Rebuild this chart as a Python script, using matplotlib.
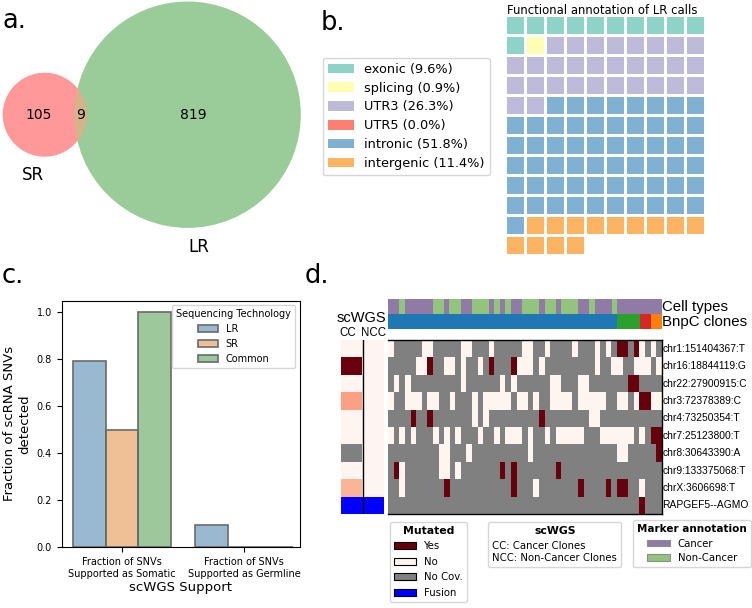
import numpy as np
import matplotlib
matplotlib.use("Agg")
import matplotlib.pyplot as plt
from matplotlib.patches import Circle, Rectangle, Patch
from matplotlib.colors import ListedColormap, to_rgba
from matplotlib import colormaps

# ---------------- data ----------------
# panel a: Venn counts
venn_set_names = ["SR", "LR"]
venn_sr_only = 105
venn_lr_only = 819
venn_shared = 9

# panel b: functional annotation (waffle)
func_categories = ["exonic", "splicing", "UTR3", "UTR5", "intronic", "intergenic"]
func_counts = [11, 1, 30, 0, 59, 13]
func_colors = ["#8dd3c7", "#ffffb3", "#bebada", "#fb8072", "#80b1d3", "#fdb462"]
waffle_ncols = 10

# panel c: scWGS support
support_groups = ["Fraction of SNVs\nSupported as Somatic",
                  "Fraction of SNVs\nSupported as Germline"]
seq_technologies = ["LR", "SR", "Common"]
lr_fraction = [0.793, 0.095]
sr_fraction = [0.50, 0.0]
common_fraction = [1.0, 0.0]
tech_colors = ["#3274a1", "#e1812c", "#3a923a"]

# panel d: mutation heatmap
snv_labels = ["chr1:151404367:T", "chr16:18844119:G", "chr22:27900915:C",
              "chr3:72378389:C", "chr4:73250354:T", "chr7:25123800:T",
              "chr8:30643390:A", "chr9:133375068:T", "chrX:3606698:T",
              "RAPGEF5--AGMO"]
# w = No, r = Yes (mutated), g = No coverage
mutation_rows = [
    "w" "ggggg" "ww" "ggggg" "ww" "ggg" "w" "ggggg" "ww" "gg" "w" "gggg" "w" "ggg" "w" "g" "w" "g" "rr" "g" "r" "w" "g" "w" "g",
    "ggggg" "ww" "r" "gg" "ww" "g" "w" "gg" "w" "g" "r" "ggg" "r" "www" "g" "w" "ggggggggg" "w" "gg" "ww" "gg" "www" "g" "w",
    "gwgw" "ggggggggg" "w" "gggggg" "w" "g" "w" "gggggg" "ww" "ggg" "ww" "ggggggg" "rr" "gggg",
    "w" "gg" "www" "g" "ww" "gg" "w" "ggg" "w" "g" "wwwww" "g" "ww" "g" "w" "gg" "wwww" "g" "wwwww" "gg" "ww" "g" "w" "rr" "ww",
    "gggg" "r" "gg" "r" "ggggggg" "w" "g" "w" "ggggggggg" "r" "gggggggg" "ww" "ggggggggggg",
    "wgwgw" "ggg" "w" "g" "w" "g" "w" "ggg" "w" "gg" "w" "g" "www" "g" "w" "gg" "w" "g" "wwwww" "ggg" "wwwwww" "g" "w" "g" "rr",
    "ggggggggg" "ww" "ggg" "w" "gggggggggg" "w" "ggggggggggggggg" "ww" "ggggg" "r",
    "g" "r" "w" "gggggg" "ww" "g" "w" "ggggggg" "r" "g" "r" "ggggggg" "r" "gggggggggggggggggg",
    "gg" "w" "ggggggg" "r" "ggggggggggg" "r" "ggg" "w" "ggggggg" "r" "gggg" "r" "g" "rr" "gg" "w" "ggg",
    "ggggggggggggggggggggggggggggggggggggggggggggg" "r" "ggg",
]
# C = Cancer, N = Non-Cancer marker annotation per cell
cell_type_codes = "CC" "N" "CCCCC" "NN" "C" "NN" "CC" "NNN" "C" "N" "C" "N" "CC" "NNN" "C" "NN" "C" "NNN" "CC" "N" "CCC" "N" "CCCCCCCC"
# BnpC clone per cell
bnpc_clone_codes = "11111111111111111111111111111111111111111" "2222" "33" "44"
# scWGS support in cancer / non-cancer clones (fraction mutated); nan = no coverage
cc_fraction = [0.0, 1.0, 0.0, 0.33, 0.0, 0.0, np.nan, 0.0, 0.27, np.nan]
ncc_fraction = [0.0, 0.0, 0.0, 0.0, 0.0, 0.0, 0.0, 0.0, 0.0, np.nan]
row_is_fusion = [False, False, False, False, False, False, False, False, False, True]

mut_state_names = ["Yes", "No", "No Cov.", "Fusion"]
mut_state_colors = ["#67000d", "#fff5f0", "#808080", "#0000ff"]
cell_type_names = ["Cancer", "Non-Cancer"]
cell_type_colors = ["#8f7ba5", "#93c47d"]
clone_colors = {"1": "#1f77b4", "2": "#2ca02c", "3": "#d62728", "4": "#ff7f0e"}

# ---------------- figure ----------------
W, H = 752, 608
plt.rcParams["font.family"] = ["DejaVu Sans"]
fig = plt.figure(figsize=(W / 100, H / 100), dpi=100)


def px_axes(x0, y0, x1, y1):
    return fig.add_axes([x0 / W, 1 - y1 / H, (x1 - x0) / W, (y1 - y0) / H])


def fxy(x, y):
    return x / W, 1 - y / H


# panel labels
for lab, (x, y) in zip(["a.", "b.", "c.", "d."],
                       [(2, 28.5), (321, 30), (2, 283.5), (305, 283.5)]):
    fig.text(*fxy(x, y), lab, fontsize=18.5, va="baseline", ha="left")

# ---------------- panel a: Venn ----------------
ax_a = px_axes(0, 0, 312, 262)
r_sr = np.sqrt((venn_sr_only + venn_shared) / np.pi)
r_lr = np.sqrt((venn_lr_only + venn_shared) / np.pi)


def lens_area(d, r1, r2):
    a1 = np.arccos(np.clip((d * d + r1 * r1 - r2 * r2) / (2 * d * r1), -1, 1))
    a2 = np.arccos(np.clip((d * d + r2 * r2 - r1 * r1) / (2 * d * r2), -1, 1))
    tri = 0.5 * np.sqrt(max((-d + r1 + r2) * (d + r1 - r2) * (d - r1 + r2) * (d + r1 + r2), 0))
    return r1 * r1 * a1 + r2 * r2 * a2 - tri


lo, hi = abs(r_lr - r_sr) + 1e-9, r_sr + r_lr
for _ in range(200):
    mid = 0.5 * (lo + hi)
    if lens_area(mid, r_sr, r_lr) > venn_shared:
        lo = mid
    else:
        hi = mid
dist = 0.5 * (lo + hi)

scale = 42.0 / r_sr
cx, cy = 44.7, 114.7
ax_a.set_xlim(-cx / scale, (312 - cx) / scale)
ax_a.set_ylim(-(262 - cy) / scale, cy / scale)
ax_a.axis("off")
circ_lr = Circle((dist, 0), r_lr, facecolor="#99cc99", edgecolor="none")
circ_sr = Circle((0, 0), r_sr, facecolor="#ff9999", edgecolor="none")
circ_ov = Circle((0, 0), r_sr, facecolor="#d6b48a", edgecolor="none")
ax_a.add_patch(circ_lr)
ax_a.add_patch(circ_sr)
ax_a.add_patch(circ_ov)
circ_ov.set_clip_path(circ_lr)
ax_a.text((-r_sr + dist - r_lr) / 2, 0, str(venn_sr_only), ha="center", va="center", fontsize=10)
ax_a.text((dist - r_lr + r_sr) / 2, 0, str(venn_shared), ha="center", va="center", fontsize=10)
ax_a.text((r_sr + dist + r_lr) / 2, 0, str(venn_lr_only), ha="center", va="center", fontsize=10)
ax_a.text(-1.65, -r_sr - 1.4, venn_set_names[0], ha="center", va="top", fontsize=12)
ax_a.text(dist + 1.6, -r_lr - 1.4, venn_set_names[1], ha="center", va="top", fontsize=12)

# ---------------- panel b: waffle ----------------
total_calls = sum(func_counts)
n_wrows = int(np.ceil(total_calls / waffle_ncols))
ax_w = px_axes(505.7, 15.7, 505.7 + 20 * waffle_ncols, 15.7 + 20 * n_wrows)
ax_w.set_xlim(0, waffle_ncols)
ax_w.set_ylim(n_wrows, 0)
ax_w.axis("off")
k = 0
for ci, n in enumerate(func_counts):
    for _ in range(n):
        r, c = divmod(k, waffle_ncols)
        ax_w.add_patch(Rectangle((c + 0.08, r + 0.08), 0.835, 0.835,
                                 facecolor=func_colors[ci], edgecolor="none"))
        k += 1
fig.text(*fxy(507.5, 14), "Functional annotation of LR calls", fontsize=8.4,
         va="baseline", ha="left")
b_handles = [Patch(facecolor=col, edgecolor="none") for col in func_colors]
b_labels = [f"{cat} ({100 * n / total_calls:.1f}%)" for cat, n in zip(func_categories, func_counts)]
fig.legend(b_handles, b_labels, loc="upper left", bbox_to_anchor=fxy(322.7, 57.7),
           bbox_transform=fig.transFigure, borderaxespad=0, fontsize=9.3,
           labelspacing=0.45, handlelength=2.0, handleheight=0.75)

# ---------------- panel c: bar chart ----------------
ax_c = px_axes(61.7, 300.5, 300, 547.3)
bw = 0.8 / 3
xg = np.arange(len(support_groups))
for ti, (tech, vals) in enumerate(zip(seq_technologies, [lr_fraction, sr_fraction, common_fraction])):
    ax_c.bar(xg + (ti - 1) * bw, vals, width=bw, facecolor=to_rgba(tech_colors[ti], 0.5),
             edgecolor="#6a6a6a", linewidth=1.2, label=tech)
ax_c.set_xlim(-0.493, 1.458)
ax_c.set_ylim(0, 1.05)
ax_c.set_xticks(xg)
ax_c.set_xticklabels(support_groups, fontsize=7)
ax_c.set_yticks(np.arange(0, 1.01, 0.2))
ax_c.set_yticklabels([f"{v:.1f}" for v in np.arange(0, 1.01, 0.2)], fontsize=7)
ax_c.set_ylabel("Fraction of scRNA SNVs\ndetected", fontsize=9.5)
ax_c.set_xlabel("scWGS Support", fontsize=9.5, labelpad=2)
ax_c.legend(title="Sequencing Technology", fontsize=7, title_fontsize=7, loc="upper right")

# ---------------- panel d: heatmap ----------------
n_rows = len(mutation_rows)
n_cells = len(cell_type_codes)
code_map = {"w": 0, "r": 1, "g": 2}
mut = np.array([[code_map[ch] for ch in row.ljust(n_cells, "g")[:n_cells]] for row in mutation_rows])

hx0, hx1, hy0, hy1 = 388.3, 661.7, 340.0, 514.0
ax_h = px_axes(hx0, hy0, hx1, hy1)
cmap_mut = ListedColormap([mut_state_colors[1], mut_state_colors[0], mut_state_colors[2]])
ax_h.pcolormesh(np.arange(n_cells + 1), np.arange(n_rows + 1), mut, cmap=cmap_mut,
                vmin=-0.5, vmax=2.5)
ax_h.set_xlim(0, n_cells)
ax_h.set_ylim(n_rows, 0)
ax_h.set_xticks([])
ax_h.set_yticks([])
for side in ["top", "bottom", "right"]:
    ax_h.spines[side].set_linewidth(1.0)
ax_h.spines["left"].set_visible(False)
for i, lab in enumerate(snv_labels):
    ax_h.text(n_cells + 0.12, i + 0.5, lab, fontsize=7.4, family="Liberation Sans",
              va="center", ha="left", clip_on=False)

# top annotations
ax_t = px_axes(hx0, 299.0, hx1, 329.0)
ct_rgb = [to_rgba(cell_type_colors[0] if ch == "C" else cell_type_colors[1]) for ch in cell_type_codes]
cl_rgb = [to_rgba(clone_colors[ch]) for ch in bnpc_clone_codes]
ax_t.imshow(np.array([ct_rgb, cl_rgb]), aspect="auto", interpolation="nearest",
            extent=(0, n_cells, 2, 0))
ax_t.set_xlim(0, n_cells)
ax_t.set_ylim(2, 0)
ax_t.axis("off")
for i, lab in enumerate(["Cell types", "BnpC clones"]):
    ax_t.text(n_cells + 0.12, i + 0.55, lab, fontsize=10.8, family="Liberation Sans",
              va="center", ha="left", clip_on=False)

# scWGS CC / NCC columns
ax_s = px_axes(341.3, hy0, 384.3, hy1)
reds = colormaps["Reds"]
img = np.zeros((n_rows, 2, 4))
for i in range(n_rows):
    for j, vals in enumerate([cc_fraction, ncc_fraction]):
        if row_is_fusion[i]:
            img[i, j] = to_rgba(mut_state_colors[3])
        elif np.isnan(vals[i]):
            img[i, j] = to_rgba(mut_state_colors[2])
        else:
            img[i, j] = reds(vals[i])
ax_s.imshow(img, aspect="auto", interpolation="nearest", extent=(0, 2, n_rows, 0))
ax_s.set_xlim(0, 2)
ax_s.set_ylim(n_rows, 0)
ax_s.axvline(1, color="black", lw=1.0)
ax_s.axis("off")
fig.text(*fxy(361.3, 318), "scWGS", fontsize=10.5, family="Liberation Sans", ha="center", va="center")
fig.text(*fxy(347.5, 332.5), "CC", fontsize=8.3, family="Liberation Sans", ha="center", va="center")
fig.text(*fxy(373.8, 332.5), "NCC", fontsize=8.3, family="Liberation Sans", ha="center", va="center")

# legends
m_handles = [Patch(facecolor=c, edgecolor="black", linewidth=0.8) for c in mut_state_colors]
fig.legend(m_handles, mut_state_names, loc="upper left", bbox_to_anchor=fxy(390, 521.7),
           bbox_transform=fig.transFigure, borderaxespad=0, fontsize=7.3,
           title="Mutated", title_fontproperties={"weight": "bold", "size": 7.8},
           handlelength=2.2, handleheight=0.7, labelspacing=0.55)
fig.legend([Patch(facecolor="none", edgecolor="none")], ["CC: Cancer Clones\nNCC: Non-Cancer Clones"],
           loc="upper left", bbox_to_anchor=fxy(488.3, 522), bbox_transform=fig.transFigure,
           borderaxespad=0, fontsize=7.3, title="scWGS",
           title_fontproperties={"weight": "bold", "size": 7.8},
           handlelength=0, handletextpad=0)
ct_handles = [Patch(facecolor=c, edgecolor="0.55", linewidth=0.8) for c in cell_type_colors]
fig.legend(ct_handles, cell_type_names, loc="upper left", bbox_to_anchor=fxy(633.3, 520),
           bbox_transform=fig.transFigure, borderaxespad=0, fontsize=7.3,
           title="Marker annotation", title_fontproperties={"weight": "bold", "size": 7.5},
           handlelength=2.2, handleheight=0.6, labelspacing=0.45)

fig.savefig("out.png", dpi=100)
